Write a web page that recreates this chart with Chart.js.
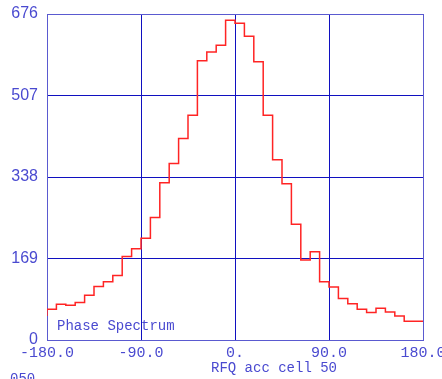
<!DOCTYPE html>
<html>
<head>
<meta charset="utf-8">
<script src="https://cdn.jsdelivr.net/npm/chart.js@4"></script>
<style>
  html, body { margin: 0; padding: 0; background: #fff; overflow: hidden; }
  #wrap { position: relative; width: 442px; height: 379px; }
</style>
</head>
<body>
<div id="wrap"><canvas id="phaseChart" width="442" height="379"></canvas></div>
<script>
// phase histogram, 9 degree bins from -180 to 180
const binStart = -180;
const binWidth = 9;
const counts = [
  50, 64, 74, 72, 78, 93, 111, 121, 134, 173,
  189, 211, 254, 326, 366, 418, 466, 579, 597, 611,
  663, 657, 630, 577, 466, 374, 324, 240, 166, 183,
  121, 110, 86, 75, 64, 57, 66, 58, 50, 39
];
const xTicks = [-180, -90, 0, 90, 180];
const xTickLabels = ['-180.0', '-90.0', '0.', '90.0', '180.0'];
const yTicks = [0, 169, 338, 507, 676];

const textColor = '#4a4ad0';
const gridDark = '#1010c0';
const gridLight = '#5a5ad0';

// step line points: left edge of every bin, plus the closing right edge
const points = counts.map((c, i) => ({ x: binStart + i * binWidth, y: c }));
points.push({ x: binStart + counts.length * binWidth, y: counts[counts.length - 1] });

const textPlugin = {
  id: 'extraText',
  afterDraw(chart) {
    const ctx = chart.ctx;
    ctx.save();
    ctx.fillStyle = textColor;
    ctx.font = '14px "Liberation Mono", monospace';
    ctx.textAlign = 'left';
    ctx.textBaseline = 'middle';
    ctx.fillText('Phase Spectrum', 57, 326);
    ctx.fillText('RFQ acc cell 50', 211, 368);
    ctx.textBaseline = 'top';
    ctx.fillText('050', 10, 372);
    ctx.restore();
  }
};

new Chart(document.getElementById('phaseChart'), {
  type: 'line',
  data: {
    datasets: [
      {
        data: points,
        stepped: 'after',
        borderColor: '#ff2424',
        borderWidth: 1.5,
        pointRadius: 0,
        fill: false,
      },
    ],
  },
  options: {
    responsive: false,
    animation: false,
    layout: { padding: { top: 14, right: 19, left: 0, bottom: 0 } },
    plugins: {
      legend: { display: false },
      tooltip: { enabled: false },
    },
    scales: {
      x: {
        type: 'linear',
        min: -180,
        max: 180,
        afterBuildTicks: (axis) => {
          axis.ticks = xTicks.map((v) => ({ value: v }));
        },
        afterFit: (axis) => {
          axis.height = 39;
          axis.paddingLeft = 0;
          axis.paddingRight = 0;
        },
        ticks: {
          padding: 4,
          color: textColor,
          font: { family: '"Liberation Mono", monospace', size: 15 },
          maxRotation: 0,
          autoSkip: false,
          callback: (v) => xTickLabels[xTicks.indexOf(v)],
        },
        grid: {
          drawTicks: false,
          color: (c) => (c.tick && Math.abs(c.tick.value) === 180 ? gridLight : gridDark),
          lineWidth: 1,
        },
        border: { color: gridLight, width: 1 },
      },
      y: {
        min: 0,
        max: 676,
        afterBuildTicks: (axis) => {
          axis.ticks = yTicks.map((v) => ({ value: v }));
        },
        afterFit: (axis) => {
          axis.width = 47;
          axis.paddingTop = 0;
          axis.paddingBottom = 0;
        },
        ticks: {
          padding: 9,
          color: textColor,
          font: { family: '"Liberation Sans", Arial, sans-serif', size: 16 },
        },
        grid: {
          drawTicks: false,
          color: (c) => (c.tick && (c.tick.value === 676 || c.tick.value === 0) ? gridLight : gridDark),
          lineWidth: 1,
        },
        border: { color: gridLight, width: 1 },
      },
    },
  },
  plugins: [textPlugin],
});
</script>
</body>
</html>
